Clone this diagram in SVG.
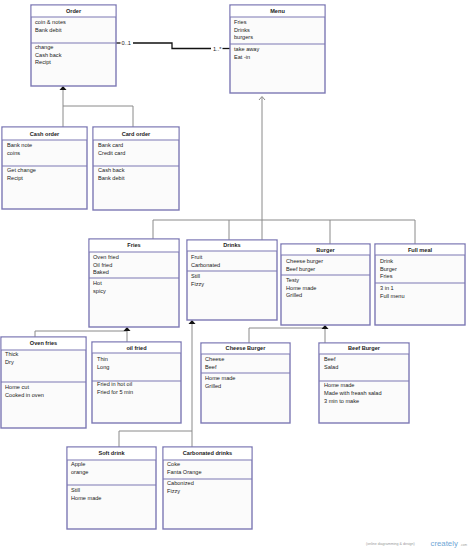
<svg xmlns="http://www.w3.org/2000/svg" width="474" height="551" viewBox="0 0 474 551">
<style>
.box{fill:#fbfbfb;stroke:#7c78b4;stroke-width:1.4}
.hd{fill:#ffffff}
.dv{stroke:#7c78b4;stroke-width:1.2}
text{font-family:"Liberation Sans",Arial,sans-serif;font-size:5.6px;fill:#222}
.t{font-weight:bold;text-anchor:middle}
.cn{fill:none;stroke:#8a8a8a;stroke-width:1}
.as{fill:#111}
.ml{fill:none;stroke:#111;stroke-width:1.3}
</style>
<rect width="474" height="551" fill="#ffffff"/>
<g id="connectors">
<path class="ml" d="M116 43 H120.5"/>
<text x="121.5" y="45">0..1</text>
<path class="ml" d="M133 43 H172 V48.5 H211"/>
<text x="213" y="50.5">1..*</text>
<path class="ml" d="M222.5 48.5 H230"/>
<path class="cn" d="M63 89 V106 H133 V127 M63 106 V127"/>
<polygon class="as" points="63,86 59.5,90 66.5,90"/>
<path class="cn" d="M262 97 V240 M153 239 V220 H415 V244 M229 220 V240 M330 220 V244"/>
<path class="cn" d="M259 100 L262 96.5 L265 100"/>
<path class="cn" d="M127 330 V342 M35 337 V331 H127"/>
<polygon class="as" points="127,327 123.5,331 130.5,331"/>
<path class="cn" d="M192 323 V447 M119 447 V431 H192"/>
<polygon class="as" points="192,320 188.5,324 195.5,324"/>
<path class="cn" d="M325 328 V343 M249 343 V328 H325"/>
<polygon class="as" points="325,325 321.5,329 328.5,329"/>
</g>
<g id="order">
<rect class="box" x="31" y="5" width="85" height="81"/>
<rect class="hd" x="31.7" y="5.7" width="83.6" height="11.3"/>
<line class="dv" x1="31" y1="17" x2="116" y2="17"/><line class="dv" x1="31" y1="43" x2="116" y2="43"/>
<text class="t" x="73.5" y="12.5">Order</text>
<text x="35" y="24">coin &amp; notes</text><text x="35" y="31.5">Bank debit</text>
<text x="35" y="49">change</text><text x="35" y="56.5">Cash back</text><text x="35" y="64">Recipt</text>
</g>
<g id="menu">
<rect class="box" x="230" y="5" width="95" height="88"/>
<rect class="hd" x="230.7" y="5.7" width="93.6" height="11.3"/>
<line class="dv" x1="230" y1="17" x2="325" y2="17"/><line class="dv" x1="230" y1="44" x2="325" y2="44"/>
<text class="t" x="277.5" y="12.5">Menu</text>
<text x="234" y="24">Fries</text><text x="234" y="31.5">Drinks</text><text x="234" y="39">burgers</text>
<text x="234" y="51">take away</text><text x="234" y="58.5">Eat -in</text>
</g>
<g id="cash-order">
<rect class="box" x="2" y="127" width="85" height="82"/>
<rect class="hd" x="2.7" y="127.7" width="83.6" height="12.3"/>
<line class="dv" x1="2" y1="140" x2="87" y2="140"/><line class="dv" x1="2" y1="166" x2="87" y2="166"/>
<text class="t" x="44.5" y="135.5">Cash order</text>
<text x="7" y="147">Bank note</text><text x="7" y="154.5">coins</text>
<text x="7" y="172">Get change</text><text x="7" y="179.5">Recipt</text>
</g>
<g id="card-order">
<rect class="box" x="93" y="127" width="86" height="83"/>
<rect class="hd" x="93.7" y="127.7" width="84.6" height="12.3"/>
<line class="dv" x1="93" y1="140" x2="179" y2="140"/><line class="dv" x1="93" y1="166" x2="179" y2="166"/>
<text class="t" x="136" y="135.5">Card order</text>
<text x="98" y="147">Bank card</text><text x="98" y="154.5">Credit card</text>
<text x="98" y="172">Cash back</text><text x="98" y="179.5">Bank debit</text>
</g>
<g id="fries">
<rect class="box" x="89" y="239" width="90" height="88"/>
<rect class="hd" x="89.7" y="239.7" width="88.6" height="12.3"/>
<line class="dv" x1="89" y1="252" x2="179" y2="252"/><line class="dv" x1="89" y1="278" x2="179" y2="278"/>
<text class="t" x="134" y="247">Fries</text>
<text x="93" y="259">Oven fried</text><text x="93" y="266.5">Oil fried</text><text x="93" y="274">Baked</text>
<text x="93" y="285">Hot</text><text x="93" y="292.5">spicy</text>
</g>
<g id="drinks">
<rect class="box" x="187" y="240" width="90" height="80"/>
<rect class="hd" x="187.7" y="240.7" width="88.6" height="10.3"/>
<line class="dv" x1="187" y1="251" x2="277" y2="251"/><line class="dv" x1="187" y1="271" x2="277" y2="271"/>
<text class="t" x="232" y="247">Drinks</text>
<text x="191" y="259">Fruit</text><text x="191" y="266.5">Carbonated</text>
<text x="191" y="278">Still</text><text x="191" y="285.5">Fizzy</text>
</g>
<g id="burger">
<rect class="box" x="281" y="244" width="89" height="81"/>
<rect class="hd" x="281.7" y="244.7" width="87.6" height="10.3"/>
<line class="dv" x1="281" y1="255" x2="370" y2="255"/><line class="dv" x1="281" y1="275" x2="370" y2="275"/>
<text class="t" x="325.5" y="251.5">Burger</text>
<text x="286" y="263">Cheese burger</text><text x="286" y="270.5">Beef burger</text>
<text x="286" y="282">Testy</text><text x="286" y="289.5">Home made</text><text x="286" y="297">Grilled</text>
</g>
<g id="full-meal">
<rect class="box" x="375" y="244" width="90" height="81"/>
<rect class="hd" x="375.7" y="244.7" width="88.6" height="10.3"/>
<line class="dv" x1="375" y1="255" x2="465" y2="255"/><line class="dv" x1="375" y1="283" x2="465" y2="283"/>
<text class="t" x="420" y="251.5">Full meal</text>
<text x="380" y="263">Drink</text><text x="380" y="270.5">Burger</text><text x="380" y="278">Fries</text>
<text x="380" y="290">3 in 1</text><text x="380" y="297.5">Full menu</text>
</g>
<g id="oven-fries">
<rect class="box" x="1" y="337" width="85" height="91"/>
<rect class="hd" x="1.7" y="337.7" width="83.6" height="12.3"/>
<line class="dv" x1="1" y1="350" x2="86" y2="350"/><line class="dv" x1="1" y1="382" x2="86" y2="382"/>
<text class="t" x="43.5" y="345">Oven fries</text>
<text x="5" y="356">Thick</text><text x="5" y="364">Dry</text>
<text x="5" y="389">Home cut</text><text x="5" y="396.5">Cooked in oven</text>
</g>
<g id="oil-fried">
<rect class="box" x="92" y="342" width="89" height="81"/>
<rect class="hd" x="92.7" y="342.7" width="87.6" height="10.3"/>
<line class="dv" x1="92" y1="353" x2="181" y2="353"/><line class="dv" x1="92" y1="381" x2="181" y2="381"/>
<text class="t" x="136.5" y="349.5">oil fried</text>
<text x="97" y="361">Thin</text><text x="97" y="369">Long</text>
<text x="97" y="386">Fried in hot oil</text><text x="97" y="394">Fried for 5 min</text>
</g>
<g id="cheese-burger">
<rect class="box" x="201" y="343" width="89" height="80"/>
<rect class="hd" x="201.7" y="343.7" width="87.6" height="10.3"/>
<line class="dv" x1="201" y1="354" x2="290" y2="354"/><line class="dv" x1="201" y1="373" x2="290" y2="373"/>
<text class="t" x="245.5" y="349.5">Cheese Burger</text>
<text x="205" y="361">Cheese</text><text x="205" y="369">Beef</text>
<text x="205" y="380">Home made</text><text x="205" y="388">Grilled</text>
</g>
<g id="beef-burger">
<rect class="box" x="319" y="343" width="90" height="80"/>
<rect class="hd" x="319.7" y="343.7" width="88.6" height="10.3"/>
<line class="dv" x1="319" y1="354" x2="409" y2="354"/><line class="dv" x1="319" y1="381" x2="409" y2="381"/>
<text class="t" x="364" y="349.5">Beef Burger</text>
<text x="324" y="361">Beef</text><text x="324" y="369">Salad</text>
<text x="324" y="387">Home made</text><text x="324" y="395">Made with freash salad</text><text x="324" y="402.5">3 min to make</text>
</g>
<g id="soft-drink">
<rect class="box" x="67" y="447" width="89" height="82"/>
<rect class="hd" x="67.7" y="447.7" width="87.6" height="12.3"/>
<line class="dv" x1="67" y1="460" x2="156" y2="460"/><line class="dv" x1="67" y1="485" x2="156" y2="485"/>
<text class="t" x="111.5" y="454.5">Soft drink</text>
<text x="71" y="466">Apple</text><text x="71" y="474">orange</text>
<text x="71" y="492">Still</text><text x="71" y="499.5">Home made</text>
</g>
<g id="carbonated-drinks">
<rect class="box" x="163" y="447" width="89" height="82"/>
<rect class="hd" x="163.7" y="447.7" width="87.6" height="12.3"/>
<line class="dv" x1="163" y1="460" x2="252" y2="460"/><line class="dv" x1="163" y1="479" x2="252" y2="479"/>
<text class="t" x="207.5" y="454.5">Carbonated drinks</text>
<text x="167" y="466">Coke</text><text x="167" y="474">Fanta Orange</text>
<text x="167" y="485">Cabonized</text><text x="167" y="493">Fizzy</text>
</g>
<g id="watermark">
<text x="366" y="544.5" style="font-size:3.6px;fill:#999">(online diagramming &amp; design)</text>
<text x="430.5" y="546" style="font-size:7.8px;fill:#6fa7d6">creately</text>
<text x="460.5" y="546" style="font-size:3px;fill:#999">.com</text>
</g>
</svg>
